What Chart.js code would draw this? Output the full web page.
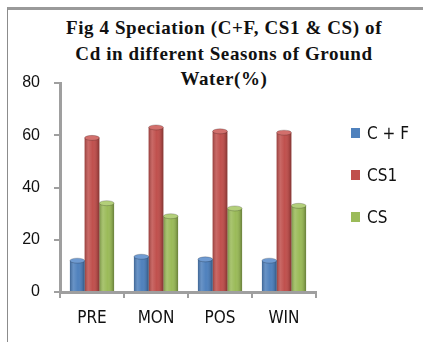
<!DOCTYPE html>
<html>
<head>
<meta charset="utf-8">
<script src="https://cdn.jsdelivr.net/npm/chart.js@4/dist/chart.umd.min.js"></script>
<style>
  html, body { margin: 0; padding: 0; background: #fff; }
  #wrap { position: relative; width: 423px; height: 342px; overflow: hidden; background: #fff; }
  #frame { position: absolute; left: 7px; top: 7px; width: 500px; height: 400px;
           border-top: 3px solid #9a9a9a; border-left: 1px solid #8c8c8c; }
  #title { position: absolute; left: 25px; top: 15px; width: 398px; text-align: center;
           font-family: "Liberation Serif", "DejaVu Serif", serif; font-weight: bold;
           font-size: 19px; letter-spacing: 0.6px; line-height: 25.5px; color: #111; }
  #chart { position: absolute; left: 0; top: 0; }
  #legend { position: absolute; left: 351px; top: 0; }
  .item { position: absolute; left: 0; height: 14px; white-space: nowrap;
          font-family: "Liberation Sans Narrow", "DejaVu Sans Condensed", sans-serif;
          font-size: 17px; line-height: 14px; color: #111; }
  .item span.box { position: absolute; left: 0; top: 2px; width: 9px; height: 10px; }
  .item span.txt { position: absolute; left: 16px; top: 0; }
</style>
</head>
<body>
<div id="wrap">
  <div id="frame"></div>
  <div id="title">Fig 4 Speciation (C+F, CS1 &amp; CS) of<br>Cd in different Seasons of Ground<br>Water(%)</div>
  <canvas id="chart" width="423" height="342"></canvas>
  <div id="legend"></div>
</div>
<script>
// Seasons and speciation percentages of Cd
const seasons = ['PRE', 'MON', 'POS', 'WIN'];
const seriesNames = ['C + F', 'CS1', 'CS'];
const cfValues = [12, 13.5, 12.5, 12];
const cs1Values = [59, 63, 61.5, 61];
const csValues = [34, 29, 32, 33];
const yTicks = [0, 20, 40, 60, 80];

const colors = ['#4F81BD', '#C0504D', '#9BBB59'];
const capColors = ['#6f9bd2', '#d26f6c', '#b3cf7a'];
const axisGray = '#9f9f9f';

// Cylinder-style shading and rounded top on each bar
const cylinderShade = {
  id: 'cylinderShade',
  afterDatasetsDraw(chart) {
    const ctx = chart.ctx;
    chart.data.datasets.forEach((ds, di) => {
      const meta = chart.getDatasetMeta(di);
      meta.data.forEach(bar => {
        const { x, y, base, width } = bar.getProps(['x', 'y', 'base', 'width'], true);
        const l = x - width / 2, r = x + width / 2;
        ctx.save();
        const g = ctx.createLinearGradient(l, 0, r, 0);
        g.addColorStop(0, 'rgba(0,0,0,0.22)');
        g.addColorStop(0.25, 'rgba(255,255,255,0.14)');
        g.addColorStop(0.55, 'rgba(255,255,255,0)');
        g.addColorStop(0.85, 'rgba(0,0,0,0.12)');
        g.addColorStop(1, 'rgba(0,0,0,0.32)');
        ctx.fillStyle = g;
        ctx.fillRect(l, y, width, base - y);
        ctx.beginPath();
        ctx.ellipse(x, y, width / 2, 2.5, 0, 0, Math.PI * 2);
        ctx.fillStyle = capColors[di];
        ctx.fill();
        ctx.lineWidth = 0.8;
        ctx.strokeStyle = 'rgba(0,0,0,0.25)';
        ctx.stroke();
        ctx.restore();
      });
    });
  }
};

const chart = new Chart(document.getElementById('chart'), {
  type: 'bar',
  data: {
    labels: seasons,
    datasets: [
      { label: seriesNames[0], data: cfValues, backgroundColor: colors[0] },
      { label: seriesNames[1], data: cs1Values, backgroundColor: colors[1] },
      { label: seriesNames[2], data: csValues, backgroundColor: colors[2] }
    ]
  },
  options: {
    responsive: false,
    animation: false,
    devicePixelRatio: 1,
    layout: { padding: { top: 83, right: 107, bottom: 0, left: 10 } },
    datasets: { bar: { categoryPercentage: 0.69, barPercentage: 1.0, borderWidth: 0 } },
    plugins: {
      legend: { display: false },
      title: { display: false },
      tooltip: { enabled: false }
    },
    scales: {
      x: {
        grid: { display: true, drawOnChartArea: false, drawTicks: true, tickLength: 6,
                color: axisGray, lineWidth: 2 },
        border: { display: true, color: axisGray, width: 3 },
        ticks: { color: '#111', padding: 10,
                 font: { family: '"Liberation Sans Narrow", "DejaVu Sans Condensed", sans-serif', size: 17 } },
        afterFit(scale) { scale.height = 50; }
      },
      y: {
        min: 0, max: 80,
        afterBuildTicks(scale) { scale.ticks = yTicks.map(v => ({ value: v })); },
        grid: { display: true, drawOnChartArea: false, drawTicks: true, tickLength: 6,
                color: axisGray, lineWidth: 2 },
        border: { display: true, color: axisGray, width: 3 },
        ticks: { color: '#111', padding: 14,
                 font: { family: '"Liberation Sans", Arial, sans-serif', size: 16 } },
        afterFit(scale) { scale.width = 50; }
      }
    }
  },
  plugins: [cylinderShade]
});

// Legend built from the chart's datasets
const legendEl = document.getElementById('legend');
const legendCenters = [133, 175, 217];
chart.data.datasets.forEach((ds, i) => {
  const item = document.createElement('div');
  item.className = 'item';
  item.style.top = (legendCenters[i] - 7) + 'px';
  const box = document.createElement('span');
  box.className = 'box';
  box.style.background = ds.backgroundColor;
  const txt = document.createElement('span');
  txt.className = 'txt';
  txt.textContent = ds.label;
  item.appendChild(box);
  item.appendChild(txt);
  legendEl.appendChild(item);
});
</script>
</body>
</html>
